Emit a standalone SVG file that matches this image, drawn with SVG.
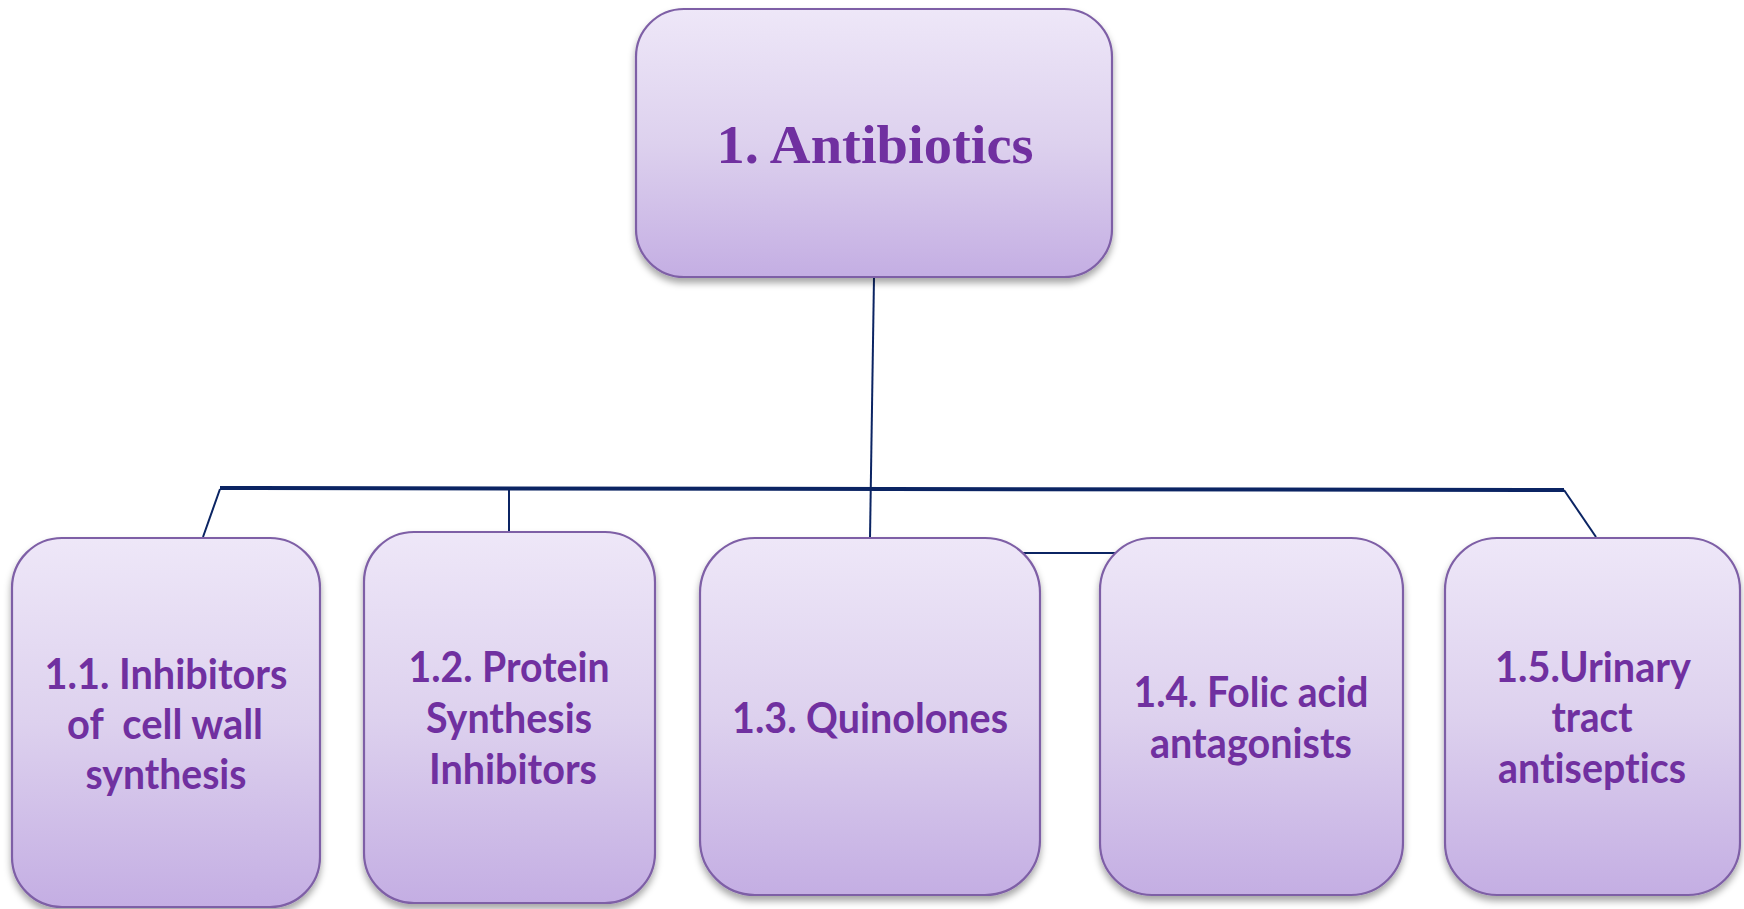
<svg xmlns="http://www.w3.org/2000/svg" width="1744" height="909" viewBox="0 0 1744 909">
  <defs>
    <linearGradient id="boxGrad" x1="0" y1="0" x2="0" y2="1">
      <stop offset="0" stop-color="#EEE7F8"/>
      <stop offset="0.5" stop-color="#DDD1EE"/>
      <stop offset="1" stop-color="#C4AEE3"/>
    </linearGradient>
    <filter id="shadow" x="-10%" y="-10%" width="120%" height="125%">
      <feDropShadow dx="0" dy="5" stdDeviation="3.5" flood-color="#000" flood-opacity="0.35"/>
    </filter>
  </defs>
  <style>
    .box { fill: url(#boxGrad); stroke: #7E5FA6; stroke-width: 2.2; filter: url(#shadow); }
    .lbl { font-family: "Lato", "Liberation Sans", sans-serif; font-weight: bold; font-size: 42px; fill: #7030A0; text-anchor: middle; font-variant-ligatures: none; }
    .title { font-family: "Liberation Serif", serif; font-weight: bold; font-size: 55px; fill: #7030A0; text-anchor: middle; }
    .conn { stroke: #0B2463; stroke-width: 2; fill: none; }
    .bar { stroke: #0B2463; stroke-width: 4; fill: none; }
  </style>
  <rect width="1744" height="909" fill="#FFFFFF"/>

  <g id="connectors">
    <line class="conn" x1="874" y1="277" x2="870" y2="538"/>
    <line class="bar" x1="220" y1="488" x2="1564" y2="490"/>
    <line class="conn" x1="220" y1="489" x2="203" y2="537"/>
    <line class="conn" x1="509" y1="489" x2="509" y2="532"/>
    <line class="conn" x1="1564" y1="490" x2="1596" y2="537"/>
    <line class="conn" x1="1021" y1="553" x2="1116" y2="553"/>
  </g>

  <g id="node-antibiotics">
    <rect class="box" x="636" y="9" width="476" height="268" rx="48" ry="48"/>
    <text class="title" x="875" y="163" textLength="317" lengthAdjust="spacingAndGlyphs">1. Antibiotics</text>
  </g>

  <g id="node-1-1">
    <rect class="box" x="12" y="538" width="308" height="369" rx="50" ry="50"/>
    <text class="lbl" x="166" y="689" textLength="243" lengthAdjust="spacingAndGlyphs">1.1. Inhibitors</text>
    <text class="lbl" x="165" y="739" textLength="196" lengthAdjust="spacingAndGlyphs" xml:space="preserve">of  cell wall</text>
    <text class="lbl" x="166" y="789" textLength="161" lengthAdjust="spacingAndGlyphs">synthesis</text>
  </g>

  <g id="node-1-2">
    <rect class="box" x="364" y="532" width="291" height="371" rx="50" ry="50"/>
    <text class="lbl" x="509" y="682" textLength="201" lengthAdjust="spacingAndGlyphs">1.2. Protein</text>
    <text class="lbl" x="509" y="733" textLength="166" lengthAdjust="spacingAndGlyphs">Synthesis</text>
    <text class="lbl" x="513" y="784" textLength="168" lengthAdjust="spacingAndGlyphs">Inhibitors</text>
  </g>

  <g id="node-1-3">
    <rect class="box" x="700" y="538" width="340" height="357" rx="55" ry="55"/>
    <text class="lbl" x="870" y="733" textLength="276" lengthAdjust="spacingAndGlyphs">1.3. Quinolones</text>
  </g>

  <g id="node-1-4">
    <rect class="box" x="1100" y="538" width="303" height="357" rx="52" ry="52"/>
    <text class="lbl" x="1251" y="707" textLength="235" lengthAdjust="spacingAndGlyphs">1.4. Folic acid</text>
    <text class="lbl" x="1251" y="758" textLength="202" lengthAdjust="spacingAndGlyphs">antagonists</text>
  </g>

  <g id="node-1-5">
    <rect class="box" x="1445" y="538" width="295" height="357" rx="52" ry="52"/>
    <text class="lbl" x="1593" y="682" textLength="196" lengthAdjust="spacingAndGlyphs">1.5.Urinary</text>
    <text class="lbl" x="1592" y="732" textLength="81" lengthAdjust="spacingAndGlyphs">tract</text>
    <text class="lbl" x="1592" y="783" textLength="188" lengthAdjust="spacingAndGlyphs">antiseptics</text>
  </g>
</svg>
